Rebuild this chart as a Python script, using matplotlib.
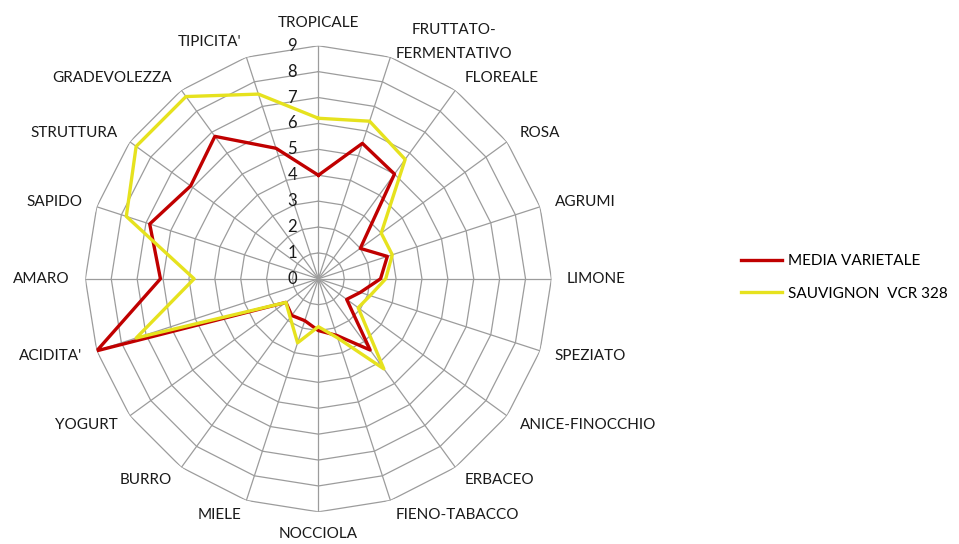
import matplotlib.pyplot as plt
import matplotlib.transforms as mtransforms
import numpy as np

plt.rcParams['font.family'] = ['Lato', 'DejaVu Sans']

# descrittori (in senso orario dall'alto)
categorie = ['TROPICALE', 'FRUTTATO-\nFERMENTATIVO', 'FLOREALE', 'ROSA', 'AGRUMI',
             'LIMONE', 'SPEZIATO', 'ANICE-FINOCCHIO', 'ERBACEO', 'FIENO-TABACCO',
             'NOCCIOLA', 'MIELE', 'BURRO', 'YOGURT', "ACIDITA'",
             'AMARO', 'SAPIDO', 'STRUTTURA', 'GRADEVOLEZZA', "TIPICITA'"]

media_varietale = [4.0, 5.5, 5.0, 2.0, 2.8, 2.4, 1.7, 1.35, 3.4, 2.3,
                   2.0, 1.7, 1.75, 1.55, 9.0, 6.1, 6.85, 6.1, 6.8, 5.3]
sauvignon_vcr328 = [6.2, 6.4, 5.7, 3.0, 3.0, 2.6, 2.1, 1.9, 4.3, 2.4,
                    1.85, 2.6, 1.85, 1.55, 7.4, 4.8, 7.8, 8.7, 8.7, 7.5]
livelli = list(range(0, 10))

n = len(categorie)
ang = np.linspace(0, 2 * np.pi, n, endpoint=False)
ang_c = np.append(ang, ang[0])

fig = plt.figure(figsize=(9.59, 5.44), dpi=100)
ax = fig.add_axes([0.089, 0.059, 0.486, 0.857], projection='polar')
ax.set_theta_offset(np.pi / 2)
ax.set_theta_direction(-1)
ax.set_ylim(0, 9)
ax.grid(False)
ax.spines['polar'].set_visible(False)
ax.set_xticks([])
ax.set_yticks([])

# griglia poligonale
grigio = '#9c9c9c'
for r in livelli[1:]:
    ax.plot(ang_c, [r] * (n + 1), color=grigio, lw=0.9, zorder=1)
for a in ang:
    ax.plot([a, a], [0, 9], color=grigio, lw=0.9, zorder=1)

# serie
ax.plot(ang_c, media_varietale + media_varietale[:1], color='#c00000', lw=2.4,
        label='MEDIA VARIETALE', zorder=3)
ax.plot(ang_c, sauvignon_vcr328 + sauvignon_vcr328[:1], color='#e6e21e', lw=2.4,
        label='SAUVIGNON  VCR 328', zorder=4)

# etichette radiali
off = mtransforms.offset_copy(ax.transData, fig=fig, x=-26, y=0, units='dots')
for r in livelli:
    ax.text(0, r, str(r), transform=off, ha='center', va='center',
            fontsize=12, color='#1a1a1a')

# etichette categorie
for a, lab in zip(ang, categorie):
    s, c = np.sin(a), np.cos(a)
    ha = 'center' if abs(s) < 0.1 else ('left' if s > 0 else 'right')
    va = 'center'
    if abs(s) < 0.1:
        va = 'bottom' if c > 0 else 'top'
    ax.text(a, 9.6, lab, ha=ha, va=va, fontsize=11, color='#1a1a1a',
            multialignment='center', linespacing=1.9)

fig.legend(loc='upper left', bbox_to_anchor=(0.758, 0.558), frameon=False,
           fontsize=11, handlelength=2.7, labelspacing=1.2, handletextpad=0.4)

fig.savefig('out.png', dpi=100, facecolor='white')
